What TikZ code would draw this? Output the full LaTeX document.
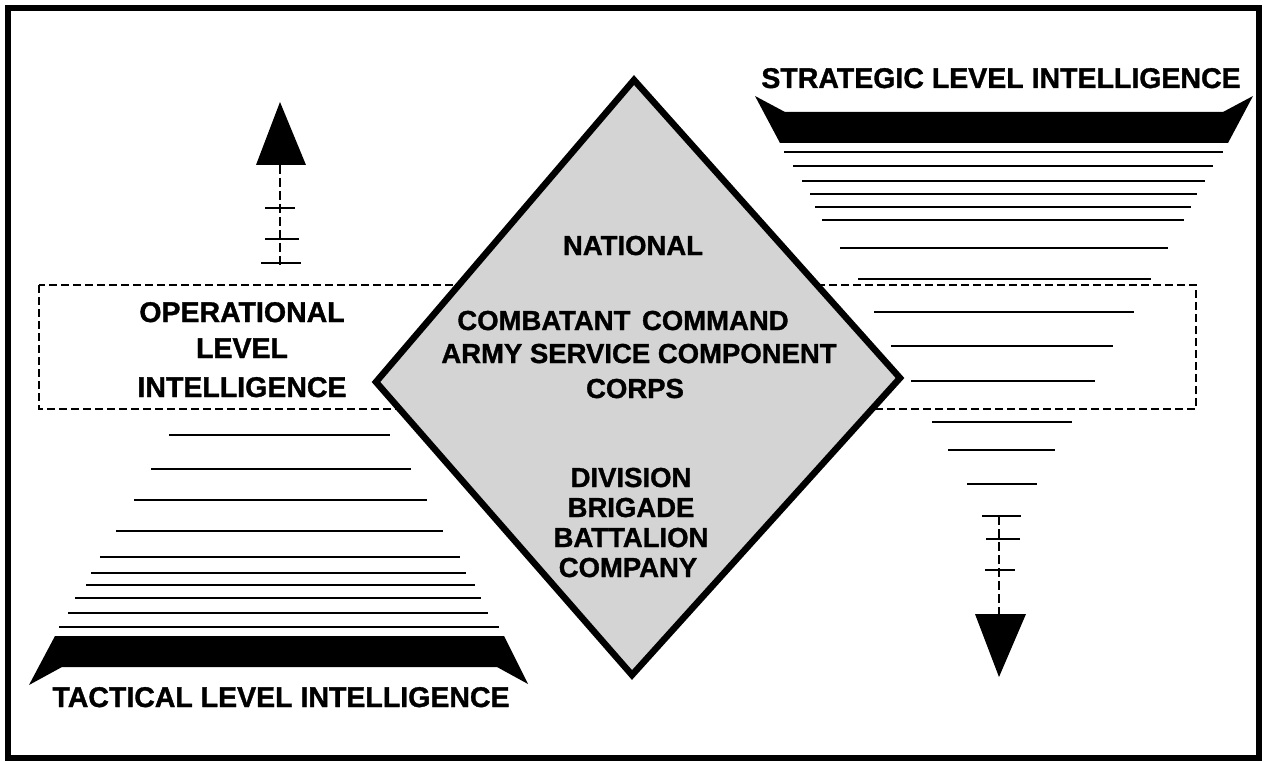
\documentclass[tikz,border=0pt]{standalone}
\usepackage{fontspec}
\setmainfont{Liberation Sans}[BoldFeatures={FakeBold=1.2}]
\begin{document}
\begin{tikzpicture}[x=1pt,y=-1pt,
  lbl/.style={font=\fontsize{28.5}{30}\selectfont\bfseries, inner sep=0pt, anchor=base},
  dlbl/.style={font=\fontsize{27.5}{29}\selectfont\bfseries, inner sep=0pt, anchor=base},
  rule/.style={line width=1.4pt},
  dashbox/.style={line width=1.2pt, dash pattern=on 8pt off 4pt},
  shaft/.style={line width=1.2pt, dash pattern=on 9pt off 4pt},
  tickmark/.style={line width=1.4pt},
  solidblack/.style={fill=black, draw=none}]
\useasboundingbox (0,0) rectangle (1264,762);
\fill[white] (0,0) rectangle (1264,762);
% frame
\draw[line width=6.5pt] (8,8) rectangle (1259,758);
% operational band
\draw[dashbox] (39,285) rectangle (1196,409);
% tactical pyramid lines
\foreach \yy/\xa/\xb in {435/169/390, 469/151/411, 500/134/427, 531/116/443, 557/100/460, 573/91/466, 585/86/475, 598/75/481, 613/68/488, 627/59/499}
  \draw[rule] (\xa,\yy) -- (\xb,\yy);
% strategic pyramid lines
\foreach \yy/\xa/\xb in {152/784/1223, 166/793/1213, 181/802/1205, 194/810/1197, 207/815/1191, 220/822/1184, 248/840/1168, 279/858/1151, 312/874/1134, 346/891/1113, 381/911/1095, 422/932/1072, 450/948/1055, 484/967/1037}
  \draw[rule] (\xa,\yy) -- (\xb,\yy);
% bars
\fill[solidblack] (755,96) -- (785,112) -- (1223,112) -- (1253,96) -- (1228,143) -- (780,143) -- cycle;
\fill[solidblack] (29,685) -- (62,667) -- (497,667) -- (528,684) -- (504,636) -- (55,636) -- cycle;
% up arrow
\coordinate (upbase) at (280,165);
\coordinate (upend) at (280,265);
\fill[solidblack] (280,102) -- (306,165) -- (256,165) -- cycle;
\draw[shaft] (upbase) -- (upend);
\draw[tickmark] (265,208) -- (295,208);
\draw[tickmark] (265,239) -- (299,239);
\draw[tickmark] (261,263) -- (301,263);
% down arrow
\coordinate (dnstart) at (999,516);
\coordinate (dnbase) at (999,614);
\draw[shaft] (dnstart) -- (dnbase);
\draw[tickmark] (982,516) -- (1021,516);
\draw[tickmark] (986,539) -- (1020,539);
\draw[tickmark] (985,570) -- (1015,570);
\fill[solidblack] (975,614) -- (1026,614) -- (999,677) -- cycle;
% diamond
\draw[line width=6.5pt, fill=black!17, line join=miter] (634,80) -- (900,378) -- (632,675) -- (376,382) -- cycle;
% labels
\node[lbl] (strat) at (1001,88) {STRATEGIC LEVEL INTELLIGENCE};
\node[lbl] (tact) at (281,707) {TACTICAL LEVEL INTELLIGENCE};
\node[lbl] (op1) at (242,322) {OPERATIONAL};
\node[lbl] (op2) at (242,358) {LEVEL};
\node[lbl] (op3) at (242,397) {INTELLIGENCE};
\node[dlbl] (nat) at (633,255) {NATIONAL};
\node[dlbl] (cc) at (623,330) {COMBATANT\hspace{0.42em}COMMAND};
\node[dlbl] (asc) at (639,363) {ARMY SERVICE COMPONENT};
\node[dlbl] (corps) at (635,398) {CORPS};
\node[dlbl] (div) at (631,487) {DIVISION};
\node[dlbl] (bde) at (631,517) {BRIGADE};
\node[dlbl] (bn) at (631,547) {BATTALION};
\node[dlbl] (co) at (628,577) {COMPANY};
\end{tikzpicture}
\end{document}
